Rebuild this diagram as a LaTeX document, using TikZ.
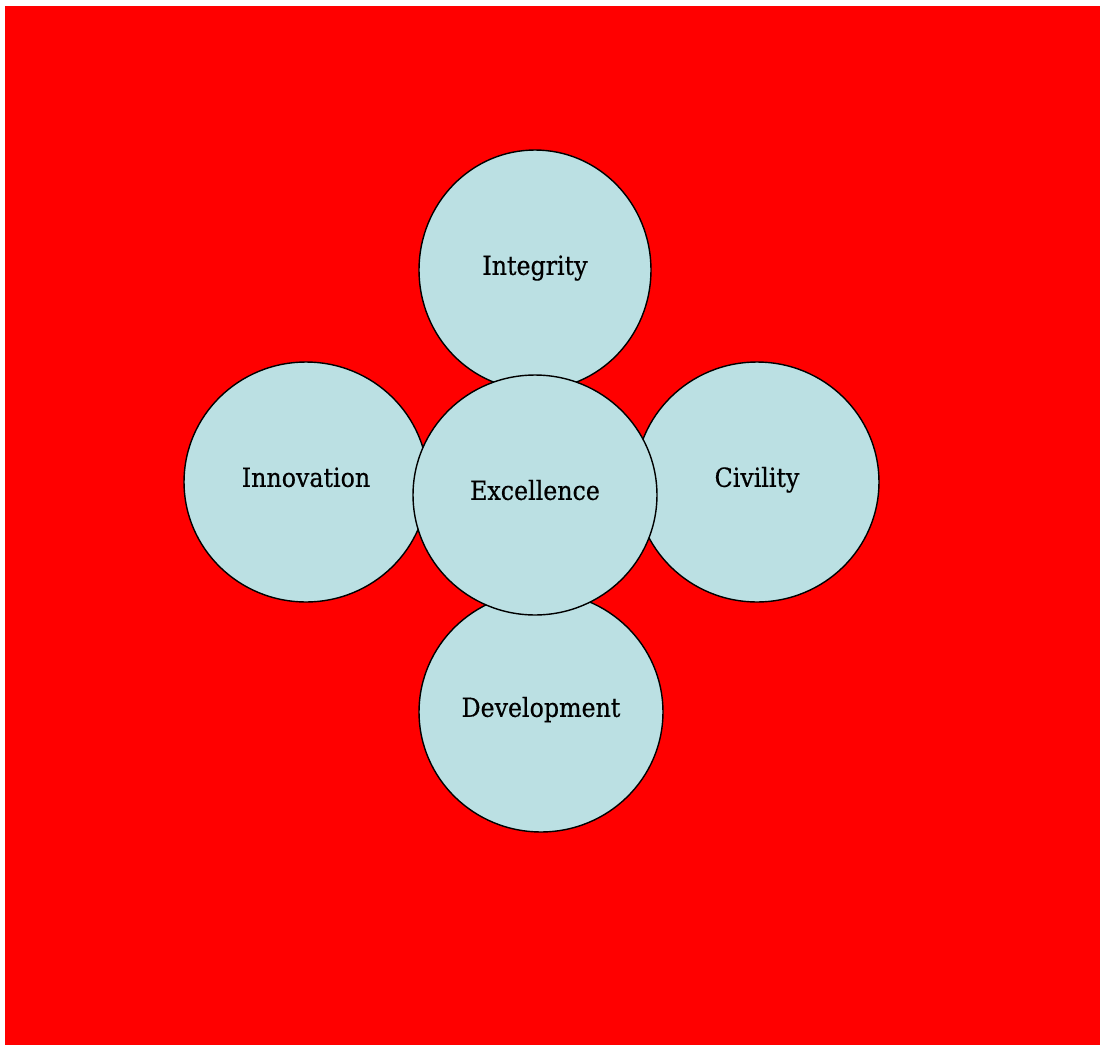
\documentclass[tikz,border=0pt]{standalone}
\usepackage{fontspec}
\setmainfont{DejaVu Serif Condensed}
\newfontfamily\valuefont{DejaVu Serif Condensed}[FakeBold=0.5]
\usepackage{tikz}
\usetikzlibrary{shapes.geometric,positioning}
\definecolor{valuefill}{RGB}{187,224,227}
\definecolor{bgred}{RGB}{255,0,0}

\begin{document}
\begin{tikzpicture}[x=0.02cm,y=-0.02cm,
  value/.style={ellipse,draw=black,line width=0.8pt,fill=valuefill,inner sep=0pt,
    minimum width=4.88cm,minimum height=4.8cm,text height=10pt,text depth=4.5pt,
    font=\valuefont\fontsize{15}{17}\selectfont}]
  \useasboundingbox (0,0) rectangle (1100,1045);
  \fill[bgred] (5,6) rectangle (1100,1045);
  \node[value,minimum width=4.64cm] (integrity) at (535,270) {Integrity};
  \node[value] (innovation) at (306,482) {Innovation};
  \node[value] (civility) at (757,482) {Civility};
  \node[value] (development) at (541,712) {Development};
  \node[value] (excellence) at (535,495) {Excellence};
\end{tikzpicture}
\end{document}
